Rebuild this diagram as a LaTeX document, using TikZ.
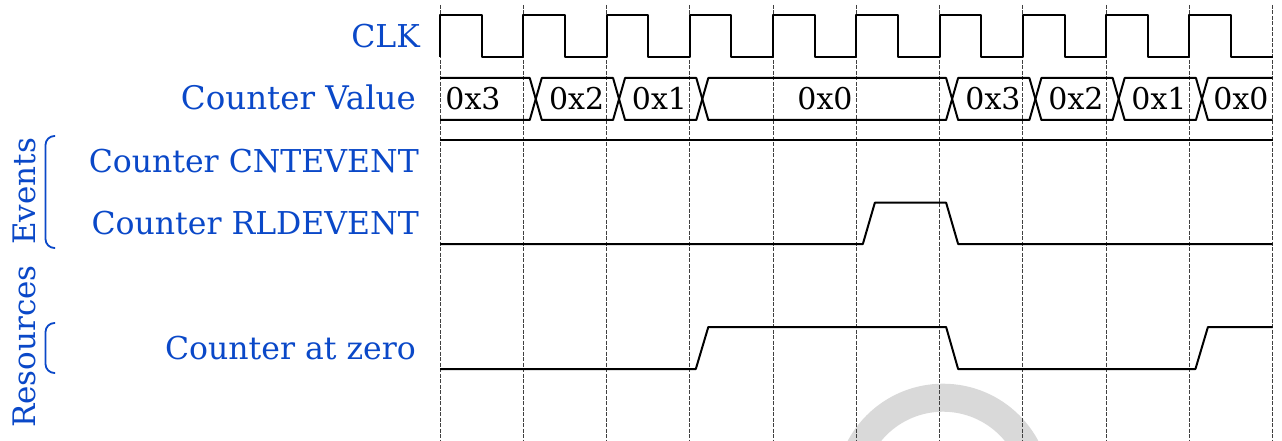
\documentclass[tikz,border=0pt]{standalone}
\usepackage{fontspec}
\setmainfont{DejaVu Serif}
\definecolor{lblue}{RGB}{10,72,200}
\definecolor{arcgray}{RGB}{217,217,217}
\begin{document}
\begin{tikzpicture}[x=1pt,y=-1pt,
  wave/.style={line width=2pt,black,line join=round},
  gridline/.style={line width=0.9pt,black!75,dash pattern=on 4pt off 1.5pt},
  lbl/.style={anchor=base east,text=lblue,font=\fontsize{31.5}{38}\selectfont,inner sep=0pt},
  val/.style={anchor=base,font=\fontsize{30}{36}\selectfont,inner sep=0pt},
  grp/.style={anchor=base,text=lblue,font=\fontsize{31}{37}\selectfont,rotate=90,inner sep=0pt},
  bracket/.style={lblue,line width=1.8pt,rounded corners=9pt}]
\useasboundingbox (0,0) rectangle (1282,441);
\def\P{83.27}
\begin{scope}
\clip (0,0) rectangle (1282,441);
\draw[arcgray,line width=28pt] (943,491.7) circle (94pt);
\end{scope}
% grid
\foreach \k in {0,...,10} \draw[gridline] ({440+\k*\P},5) -- ({440+\k*\P},441);
% clock
\draw[wave] (440,57) \foreach \k in {0,...,9} { -- ({440+\k*\P},15) -- ({440+\k*\P+0.5*\P},15) -- ({440+\k*\P+0.5*\P},57) -- ({440+(\k+1)*\P},57) };
% counter value bus
\draw[wave] (440,78)
  -- ({440+1*\P+6.5},78) -- ({440+1*\P+18.5},120)
  -- ({440+2*\P+6.5},120) -- ({440+2*\P+18.5},78)
  -- ({440+3*\P+6.5},78) -- ({440+3*\P+18.5},120)
  -- ({440+6*\P+6.5},120) -- ({440+6*\P+18.5},78)
  -- ({440+7*\P+6.5},78) -- ({440+7*\P+18.5},120)
  -- ({440+8*\P+6.5},120) -- ({440+8*\P+18.5},78)
  -- ({440+9*\P+6.5},78) -- ({440+9*\P+18.5},120)
  -- ({440+10*\P},120);
\draw[wave] (440,120)
  -- ({440+1*\P+6.5},120) -- ({440+1*\P+18.5},78)
  -- ({440+2*\P+6.5},78) -- ({440+2*\P+18.5},120)
  -- ({440+3*\P+6.5},120) -- ({440+3*\P+18.5},78)
  -- ({440+6*\P+6.5},78) -- ({440+6*\P+18.5},120)
  -- ({440+7*\P+6.5},120) -- ({440+7*\P+18.5},78)
  -- ({440+8*\P+6.5},78) -- ({440+8*\P+18.5},120)
  -- ({440+9*\P+6.5},120) -- ({440+9*\P+18.5},78)
  -- ({440+10*\P},78);
\node[val] (v1) at (473,110) {0x3};
\node[val] (v2) at (576.7,110) {0x2};
\node[val] (v3) at (659.5,110) {0x1};
\node[val] (v4) at (825,110) {0x0};
\node[val] (v5) at (993,110) {0x3};
\node[val] (v6) at (1076,110) {0x2};
\node[val] (v7) at (1159,110) {0x1};
\node[val] (v8) at (1241,110) {0x0};
% CNTEVENT
\draw[wave] (440,140) -- ({440+10*\P},140);
% RLDEVENT
\draw[wave] (440,244) -- ({440+5*\P+6.5},244) -- ({440+5*\P+18.5},202.7)
  -- ({440+6*\P+6.5},202.7) -- ({440+6*\P+18.5},244) -- ({440+10*\P},244);
% Counter at zero
\draw[wave] (440,369) -- ({440+3*\P+6},369) -- ({440+3*\P+18.5},327)
  -- ({440+6*\P+6.5},327) -- ({440+6*\P+18.5},369)
  -- ({440+9*\P+6},369) -- ({440+9*\P+18.5},327) -- ({440+10*\P},327);
% labels
\node[lbl] (clk) at (420,47.3) {CLK};
\node[lbl] (cv) at (416,109.3) {\fontsize{32.5}{38}\selectfont Counter Value};
\node[lbl] (cnt) at (419,172) {Counter CNTEVENT};
\node[lbl] (rld) at (419,234) {Counter RLDEVENT};
\node[lbl] (zero) at (416,359) {Counter at zero};
% groups
\node[grp] (ev) at (35,191.5) {Events};
\node[grp] (res) at (35,346.5) {Resources};
\draw[bracket] (55,136) -- (45.5,136) -- (45.5,248) -- (55,248);
\draw[bracket] (55,323) -- (45.5,323) -- (45.5,373) -- (55,373);
\end{tikzpicture}
\end{document}
